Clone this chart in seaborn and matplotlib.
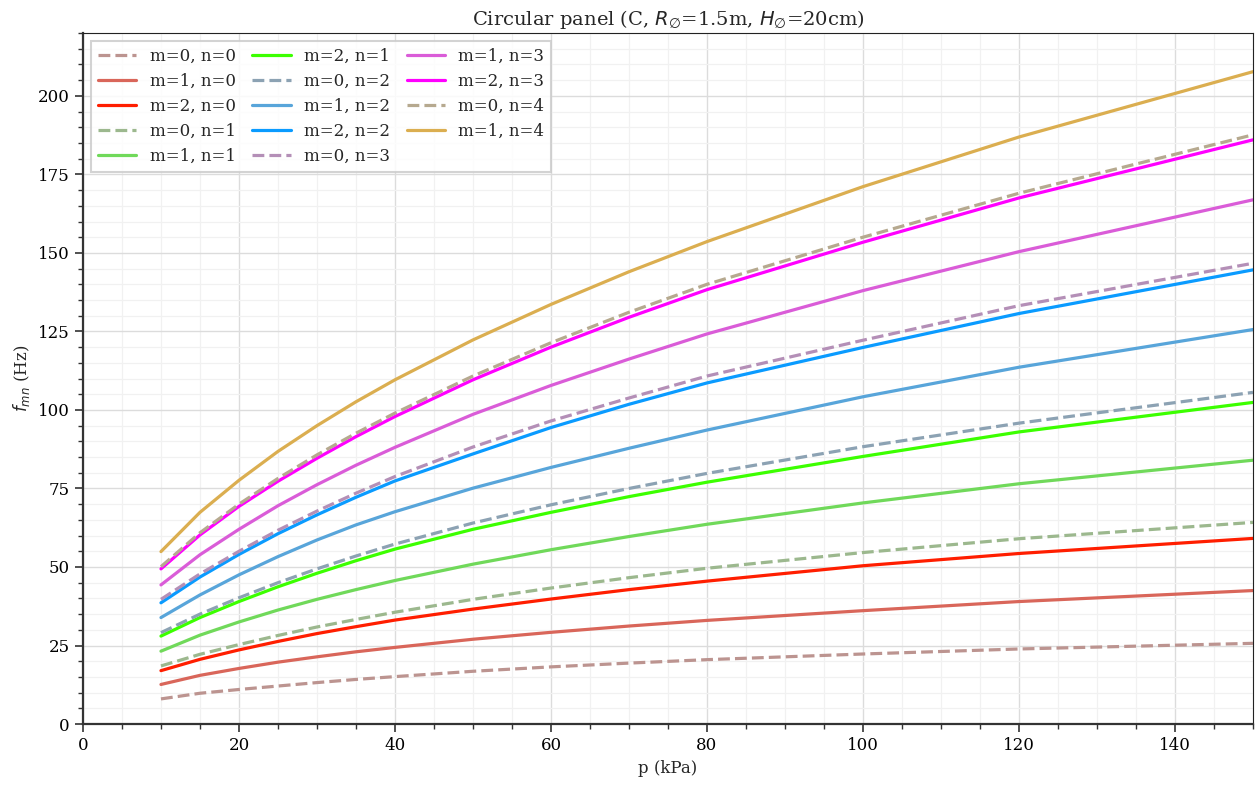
import numpy as np
import pandas as pd
import matplotlib
matplotlib.use('Agg')
import matplotlib.pyplot as plt
from matplotlib.ticker import MultipleLocator
import seaborn as sns

sns.set_theme(style='ticks')
plt.rcParams['font.family'] = ['DejaVu Serif']
plt.rcParams['mathtext.fontset'] = 'dejavusans'

# pressure (kPa)
p = [10, 15, 20, 25, 30, 35, 40, 50, 60, 70, 80, 100, 120, 150]

# eigenfrequencies f_mn (Hz)
f_m0_n0 = [8.0, 9.8, 11.0, 12.1, 13.2, 14.2, 15.1, 16.8, 18.2, 19.4, 20.5, 22.3, 23.9, 25.7]
f_m1_n0 = [12.6, 15.5, 17.7, 19.7, 21.4, 23.0, 24.4, 27.0, 29.2, 31.2, 33.0, 36.1, 39.0, 42.5]
f_m2_n0 = [17.0, 20.6, 23.6, 26.3, 28.8, 31.0, 33.1, 36.6, 39.8, 42.8, 45.5, 50.4, 54.3, 59.1]
f_m0_n1 = [18.5, 22.2, 25.3, 28.2, 30.9, 33.3, 35.6, 39.7, 43.3, 46.6, 49.6, 54.6, 59.0, 64.2]
f_m1_n1 = [23.2, 28.3, 32.5, 36.3, 39.7, 42.8, 45.7, 50.9, 55.5, 59.7, 63.6, 70.4, 76.5, 84.0]
f_m2_n1 = [28.0, 33.9, 39.0, 43.7, 48.0, 52.0, 55.7, 62.0, 67.4, 72.4, 77.0, 85.2, 93.0, 102.4]
f_m0_n2 = [29.1, 35.0, 40.2, 45.0, 49.4, 53.5, 57.3, 64.0, 69.8, 75.0, 79.8, 88.3, 95.8, 105.6]
f_m1_n2 = [33.9, 41.1, 47.5, 53.3, 58.6, 63.4, 67.6, 75.1, 81.7, 87.8, 93.6, 104.2, 113.6, 125.6]
f_m2_n2 = [38.6, 46.8, 54.0, 60.6, 66.6, 72.2, 77.4, 86.0, 94.4, 101.8, 108.6, 119.9, 130.7, 144.6]
f_m0_n3 = [39.7, 47.8, 55.0, 61.7, 67.8, 73.5, 78.8, 88.2, 96.5, 103.8, 110.8, 122.2, 133.2, 146.7]
f_m1_n3 = [44.3, 53.9, 62.0, 69.5, 76.2, 82.4, 88.1, 98.6, 107.8, 116.2, 124.2, 138.0, 150.4, 166.9]
f_m2_n3 = [49.4, 60.2, 69.3, 77.3, 84.6, 91.5, 97.9, 109.6, 120.0, 129.5, 138.3, 153.4, 167.5, 186.0]
f_m0_n4 = [50.1, 60.9, 70.0, 78.2, 85.7, 92.6, 99.0, 110.8, 121.4, 131.1, 140.0, 155.0, 169.0, 187.6]
f_m1_n4 = [54.9, 67.4, 77.6, 86.8, 95.0, 102.6, 109.6, 122.3, 133.6, 144.0, 153.6, 171.1, 186.9, 207.7]

series = [
    ('m=0, n=0', f_m0_n0, '#bc9490', '--'),
    ('m=1, n=0', f_m1_n0, '#d9665a', '-'),
    ('m=2, n=0', f_m2_n0, '#ff1e00', '-'),
    ('m=0, n=1', f_m0_n1, '#9cb88e', '--'),
    ('m=1, n=1', f_m1_n1, '#70d95a', '-'),
    ('m=2, n=1', f_m2_n1, '#3cff00', '-'),
    ('m=0, n=2', f_m0_n2, '#8ca2b3', '--'),
    ('m=1, n=2', f_m1_n2, '#58a5da', '-'),
    ('m=2, n=2', f_m2_n2, '#0a9bff', '-'),
    ('m=0, n=3', f_m0_n3, '#b48fb7', '--'),
    ('m=1, n=3', f_m1_n3, '#da5cd8', '-'),
    ('m=2, n=3', f_m2_n3, '#ff00ff', '-'),
    ('m=0, n=4', f_m0_n4, '#b6a98f', '--'),
    ('m=1, n=4', f_m1_n4, '#dbae50', '-'),
]

fig, ax = plt.subplots(figsize=(12.57, 7.87), dpi=100)

for label, vals, col, ls in series:
    df = pd.DataFrame({'p': p, 'f': vals})
    line_kw = dict(dashes=(4, 2)) if ls == '--' else {}
    sns.lineplot(data=df, x='p', y='f', ax=ax, color=col, linestyle=ls,
                 linewidth=2.3, label=label, **line_kw)

ax.set_xlim(0, 150)
ax.set_ylim(0, 220)
ax.xaxis.set_major_locator(MultipleLocator(20))
ax.xaxis.set_minor_locator(MultipleLocator(5))
ax.yaxis.set_major_locator(MultipleLocator(25))
ax.yaxis.set_minor_locator(MultipleLocator(5))
ax.grid(which='major', color='#dcdcdc', linewidth=1.0)
ax.grid(which='minor', color='#f1f1f1', linewidth=0.9)
ax.set_axisbelow(True)

ax.tick_params(which='major', direction='out', length=6, width=1.2, labelsize=12, colors='#333333')
ax.tick_params(which='minor', direction='out', length=3.5, width=1.0, colors='#333333')
ax.tick_params(labelcolor='black')
for s in ['left', 'bottom']:
    ax.spines[s].set_color('#333333')
    ax.spines[s].set_linewidth(1.6)
for s in ['top', 'right']:
    ax.spines[s].set_color('#222222')
    ax.spines[s].set_linewidth(0.8)

ax.set_title(r'Circular panel (C, $R_\varnothing$=1.5m, $H_\varnothing$=20cm)', fontsize=14, pad=6)
ax.set_xlabel('p (kPa)', fontsize=12)
ax.set_ylabel(r'$f_{mn}$ (Hz)', fontsize=12)

leg = ax.legend(loc='upper left', ncol=3, fontsize=12, frameon=True, fancybox=False,
                framealpha=0.85, edgecolor='#cccccc', handlelength=2.3,
                columnspacing=1.0, labelspacing=0.48, borderaxespad=0.5)
leg.get_frame().set_linewidth(1.5)

fig.subplots_adjust(left=0.066, right=0.9968, top=0.958, bottom=0.08)
fig.savefig('out.png', dpi=100)
